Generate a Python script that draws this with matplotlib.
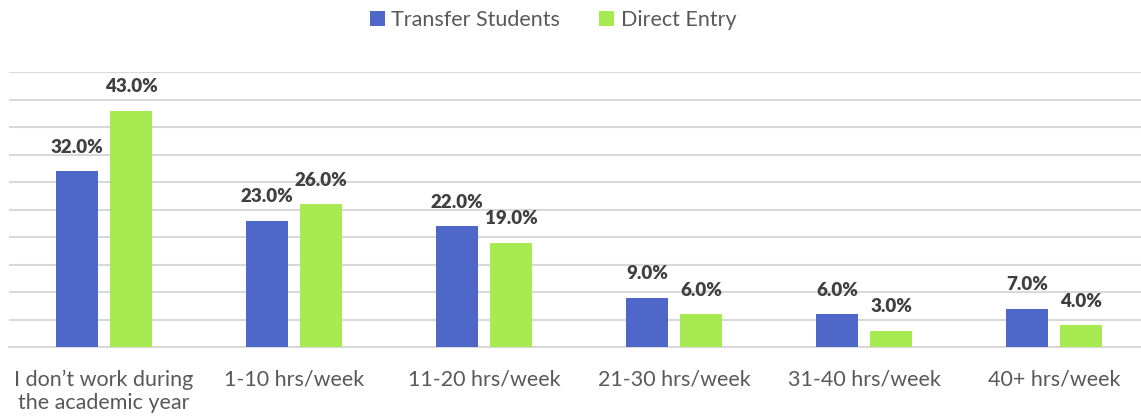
import matplotlib
matplotlib.use("Agg")
import matplotlib.pyplot as plt
import numpy as np

categories = ["I don\u2019t work during\nthe academic year", "1-10 hrs/week", "11-20 hrs/week",
              "21-30 hrs/week", "31-40 hrs/week", "40+ hrs/week"]
transfer = [32.0, 23.0, 22.0, 9.0, 6.0, 7.0]
direct = [43.0, 26.0, 19.0, 6.0, 3.0, 4.0]
series_names = ["Transfer Students", "Direct Entry"]

plt.rcParams['font.family'] = ['Lato', 'DejaVu Sans']

W, H = 1141, 418
fig = plt.figure(figsize=(W/100, H/100), dpi=100)
ax = fig.add_axes([9/W, (H-347)/H, 1140/W, (347-72)/H])

x = np.arange(len(categories))
bw = 0.221
off = 0.142
c_blue = "#4E67C8"
c_green = "#A7EA52"
b1 = ax.bar(x - off, transfer, bw, color=c_blue, label=series_names[0], zorder=3)
b2 = ax.bar(x + off, direct, bw, color=c_green, label=series_names[1], zorder=3)

for bars, vals in ((b1, transfer), (b2, direct)):
    for r, v in zip(bars, vals):
        ax.annotate(f"{v:.1f}%", (r.get_x() + r.get_width()/2, r.get_height()),
                    xytext=(0, 11), textcoords="offset points", ha="center", va="bottom",
                    fontsize=13.5, fontweight="heavy", color="#404040")

ax.set_xlim(-0.5, len(categories) - 0.5)
ax.set_ylim(0, 50)
ax.set_yticks(np.arange(0, 51, 5))
ax.yaxis.grid(True, color="#D9D9D9", linewidth=1.5, zorder=0)
ax.set_axisbelow(True)
ax.tick_params(axis='y', left=False, labelleft=False)
ax.tick_params(axis='x', bottom=False, labelsize=15.5, labelcolor="#595959", pad=13)
ax.set_xticks(x)
ax.set_xticklabels(categories, linespacing=1.2, va="top")
for s in ["top", "right", "left"]:
    ax.spines[s].set_visible(False)
ax.spines["bottom"].set_color("#D9D9D9")
ax.spines["bottom"].set_linewidth(1.5)

fig.legend(handles=[b1, b2], labels=series_names, loc="center", bbox_to_anchor=(553/W, 1 - 20/H),
           ncol=2, frameon=False, fontsize=15.5, labelcolor="#595959", handlelength=0.7,
           handleheight=0.7, handletextpad=0.3, columnspacing=1.8)

fig.savefig("out.png", dpi=100)
